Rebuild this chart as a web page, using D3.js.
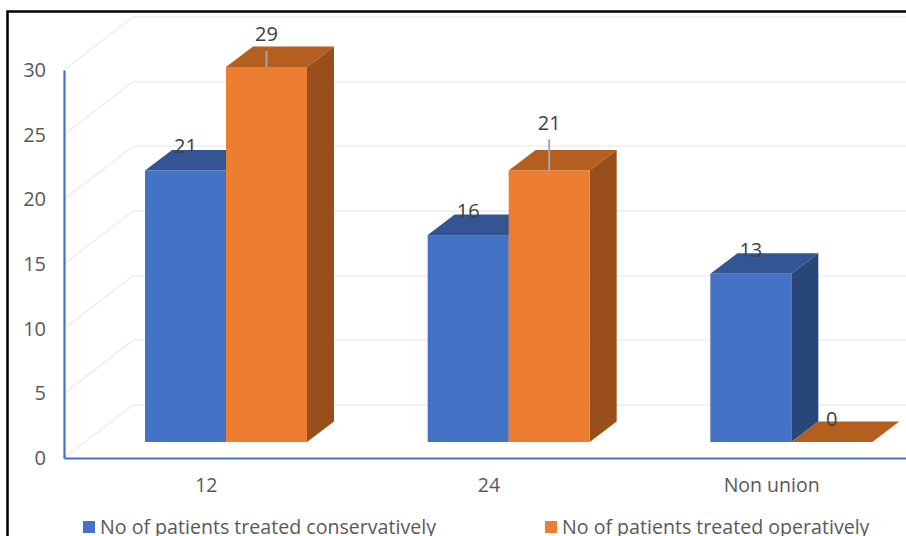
<!DOCTYPE html>
<html>
<head>
<meta charset="utf-8">
<script src="https://cdn.jsdelivr.net/npm/d3@7/dist/d3.min.js"></script>
<style>
html,body{margin:0;padding:0;background:#fff;overflow:hidden}
svg{display:block}
text{font-family:"Open Sans",sans-serif;fill:#595959}
</style>
</head>
<body>
<svg id="chart" width="906" height="536"></svg>
<script>
// Healing time groups and patient counts
const categories = ["12", "24", "Non union"];
const seriesNames = ["No of patients treated conservatively", "No of patients treated operatively"];
const conservative = [21, 16, 13];
const operative = [29, 21, 0];
const yTicks = [0, 5, 10, 15, 20, 25, 30];

// How far each value label sits above its bar, per series
const labelLift = [[25, 25, 24], [33, 48, 24]];

const palette = [
  {front: "#4472C4", top: "#335593", side: "#284679"},
  {front: "#ED7D31", top: "#B45E20", side: "#984F1C"}
];

const svg = d3.select("#chart");

// Front plane of the plot box; the bars stand a little way in, the wall at the back
const left = 64, right = 912, floor = 458, ceiling = 70;
const wall = {dx: 69, dy: -53};
const inset = {dx: 21, dy: -16};
const depth = {dx: 27, dy: -20.5};

const x = d3.scaleBand().domain(categories).range([left, right]);
const y = d3.scaleLinear().domain([0, 30]).range([floor, ceiling]);
// Two touching bars centred in each category's band
const bar = d3.scaleBand().domain([0, 1]).range([60, 222]);

// Frame around the chart
svg.append("path")
  .attr("d", "M7.5,536V11.5H906")
  .attr("fill", "none").attr("stroke", "#000").attr("stroke-width", 2.5);

// Gridlines: side wall diagonal, then back wall horizontal
const grid = svg.append("g").attr("fill", "none").attr("stroke", "#F1F1F1").attr("stroke-width", 2);
grid.selectAll("path").data(yTicks).join("path")
  .attr("d", d => d3.line()([
    [left, y(d)],
    [left + wall.dx, y(d) + wall.dy],
    [906, y(d) + wall.dy]
  ]));

// Axes
const yAxis = svg.append("g").attr("transform", `translate(${left},0)`)
  .call(d3.axisLeft(y).tickValues(yTicks).tickSize(0).tickPadding(18));
const xAxis = svg.append("g").attr("transform", `translate(0,${floor})`)
  .call(d3.axisBottom(x).tickSize(0).tickPadding(20));
[yAxis, xAxis].forEach(a => {
  a.select(".domain").attr("stroke", "#4472C4").attr("stroke-width", 2.2);
  a.selectAll("text").attr("font-size", 19.5).style("font-family", '"Open Sans",sans-serif').attr("fill", "#595959");
});
xAxis.selectAll("text").attr("dx", 1);
yAxis.selectAll("text").attr("font-size", 20);

// One 3D bar: top face, side face, front face
function drawBar(g, cat, s, value) {
  const c = palette[s];
  const x0 = x(cat) + bar(s) + inset.dx;
  const w = bar.bandwidth();
  const yb = y(0) + inset.dy, yt = y(value) + inset.dy;
  const line = d3.line();
  g.append("path").attr("fill", c.top).attr("d", line([
    [x0, yt], [x0 + depth.dx, yt + depth.dy], [x0 + w + depth.dx, yt + depth.dy], [x0 + w, yt]
  ]) + "Z");
  if (value > 0) {
    g.append("path").attr("fill", c.side).attr("d", line([
      [x0 + w, yt], [x0 + w + depth.dx, yt + depth.dy], [x0 + w + depth.dx, yb + depth.dy], [x0 + w, yb]
    ]) + "Z");
    g.append("rect").attr("fill", c.front)
      .attr("x", x0).attr("y", yt).attr("width", w).attr("height", yb - yt);
  }
}

const series = [conservative, operative];
const marks = svg.append("g");
categories.forEach((cat, i) => series.forEach((vals, s) => drawBar(marks, cat, s, vals[i])));

// Value labels, with a leader line where the label has been pulled clear of the bar
const labels = svg.append("g");
categories.forEach((cat, i) => series.forEach((vals, s) => {
  const cx = x(cat) + bar(s) + inset.dx + bar.bandwidth() / 2;
  const yt = y(vals[i]) + inset.dy;
  const lift = labelLift[s][i];
  if (lift > 30) {
    labels.append("line").attr("x1", cx).attr("x2", cx)
      .attr("y1", yt - lift + 17).attr("y2", yt)
      .attr("stroke", "#A6A6A6").attr("stroke-width", 2);
  }
  labels.append("text").attr("x", cx).attr("y", yt - lift)
    .attr("text-anchor", "middle").attr("dominant-baseline", "central")
    .attr("font-size", 20).style("fill", "#404040").text(vals[i]);
}));

// Legend
const legendX = [83, 545];
const legend = svg.append("g");
seriesNames.forEach((name, s) => {
  legend.append("rect").attr("x", legendX[s]).attr("y", 521)
    .attr("width", 12).attr("height", 12).attr("fill", palette[s].front);
  legend.append("text").attr("x", legendX[s] + 17).attr("y", 526)
    .attr("dominant-baseline", "central").attr("font-size", 19.6).text(name);
});
</script>
</body>
</html>
